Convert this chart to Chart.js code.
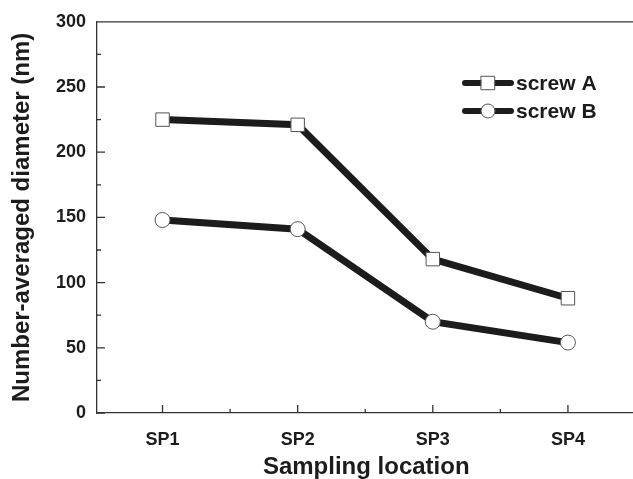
<!DOCTYPE html>
<html>
<head>
<meta charset="utf-8">
<script src="https://cdn.jsdelivr.net/npm/chart.js@4/dist/chart.umd.min.js"></script>
<style>
  html, body { margin: 0; padding: 0; background: #fff; overflow: hidden; }
</style>
</head>
<body>
<canvas id="graficaDiametro" width="646" height="479"></canvas>
<script>
// Diametro promedio por punto de muestreo
var locations = ['SP1', 'SP2', 'SP3', 'SP4'];
var screwA = [225, 221, 118, 88];
var screwB = [148, 141, 70, 54];
var seriesNames = ['screw A', 'screw B'];

var ink = '#1c1c1c';
var fontFamily = 'Arial, "Liberation Sans", Helvetica, sans-serif';

function toPoints(values) {
    return values.map(function(v, i) { return { x: i + 1, y: v }; });
}

// Marcas de escala hacia adentro, marco superior y leyenda
var framePlugin = {
    id: 'framePlugin',
    afterDraw: function(chart) {
        var ctx = chart.ctx;
        var area = chart.chartArea;
        var xs = chart.scales.x;
        var ys = chart.scales.y;
        ctx.save();
        ctx.strokeStyle = '#333';
        ctx.lineWidth = 1.3;
        ctx.beginPath();
        ctx.moveTo(area.left, area.top);
        ctx.lineTo(area.right + 10, area.top);
        // ticks eje y
        for (var v = 0; v <= 300; v += 25) {
            var py = ys.getPixelForValue(v);
            var len = (v % 50 === 0) ? 8 : 4;
            ctx.moveTo(area.left, py);
            ctx.lineTo(area.left + len, py);
        }
        // ticks eje x
        for (var t = 1; t <= locations.length; t += 0.5) {
            var px = xs.getPixelForValue(t);
            var lx = (t % 1 === 0) ? 8 : 4;
            ctx.moveTo(px, area.bottom);
            ctx.lineTo(px, area.bottom - lx);
        }
        ctx.stroke();

        // leyenda
        var rows = [83, 111];
        chart.data.datasets.forEach(function(ds, i) {
            var y = rows[i];
            ctx.strokeStyle = ink;
            ctx.lineWidth = 6;
            ctx.lineCap = 'round';
            ctx.beginPath();
            ctx.moveTo(465, y);
            ctx.lineTo(511, y);
            ctx.stroke();
            ctx.fillStyle = '#fff';
            ctx.strokeStyle = '#555';
            ctx.lineWidth = 1;
            Chart.helpers.drawPoint(ctx, {
                pointStyle: ds.pointStyle,
                rotation: 0,
                radius: i === 0 ? 9.5 : 7,
                borderWidth: 1
            }, 488, y);
            ctx.fillStyle = ink;
            ctx.font = 'bold 21px ' + fontFamily;
            ctx.textAlign = 'left';
            ctx.textBaseline = 'middle';
            ctx.fillText(ds.label, 516, y + 1);
        });
        ctx.restore();
    }
};

window.onload = function() {
    var ctx = document.getElementById('graficaDiametro').getContext('2d');
    window.myLine = new Chart(ctx, {
        type: 'line',
        data: {
            datasets: [{
                label: seriesNames[0],
                data: toPoints(screwA),
                borderColor: ink,
                borderWidth: 7,
                pointStyle: 'rect',
                pointRadius: 9.5,
                pointBackgroundColor: '#fff',
                pointBorderColor: '#555',
                pointBorderWidth: 1
            }, {
                label: seriesNames[1],
                data: toPoints(screwB),
                borderColor: ink,
                borderWidth: 7,
                pointStyle: 'circle',
                pointRadius: 7.5,
                pointBackgroundColor: '#fff',
                pointBorderColor: '#555',
                pointBorderWidth: 1
            }]
        },
        options: {
            responsive: false,
            animation: false,
            layout: { padding: { top: 20, right: 8, left: 0, bottom: 0 } },
            plugins: {
                legend: { display: false },
                tooltip: { enabled: false }
            },
            scales: {
                x: {
                    type: 'linear',
                    min: 0.515,
                    max: 4.5,
                    afterFit: function(scale) { scale.height = 66; },
                    afterBuildTicks: function(scale) {
                        scale.ticks = locations.map(function(l, i) { return { value: i + 1 }; });
                    },
                    ticks: {
                        padding: 16,
                        color: ink,
                        font: { family: fontFamily, size: 18, weight: 'bold' },
                        callback: function(v) { return locations[v - 1]; }
                    },
                    grid: { display: false, drawTicks: false, tickLength: 0 },
                    border: { display: true, color: '#333', width: 1.3 },
                    title: {
                        display: true,
                        text: 'Sampling location',
                        color: ink,
                        padding: { top: 0, bottom: -3 },
                        font: { family: fontFamily, size: 24, weight: 'bold' }
                    }
                },
                y: {
                    min: 0,
                    max: 300,
                    afterFit: function(scale) { scale.width = 97; },
                    ticks: {
                        stepSize: 25,
                        padding: 11,
                        color: ink,
                        font: { family: fontFamily, size: 18, weight: 'bold' },
                        callback: function(v) { return v % 50 === 0 ? v : ''; }
                    },
                    grid: { display: false, drawTicks: false, tickLength: 0 },
                    border: { display: true, color: '#333', width: 1.3 },
                    title: {
                        display: true,
                        text: 'Number-averaged diameter (nm)',
                        color: ink,
                        padding: { top: 8, bottom: 0 },
                        font: { family: fontFamily, size: 24, weight: 'bold' }
                    }
                }
            }
        },
        plugins: [framePlugin]
    });
};
</script>
</body>
</html>
